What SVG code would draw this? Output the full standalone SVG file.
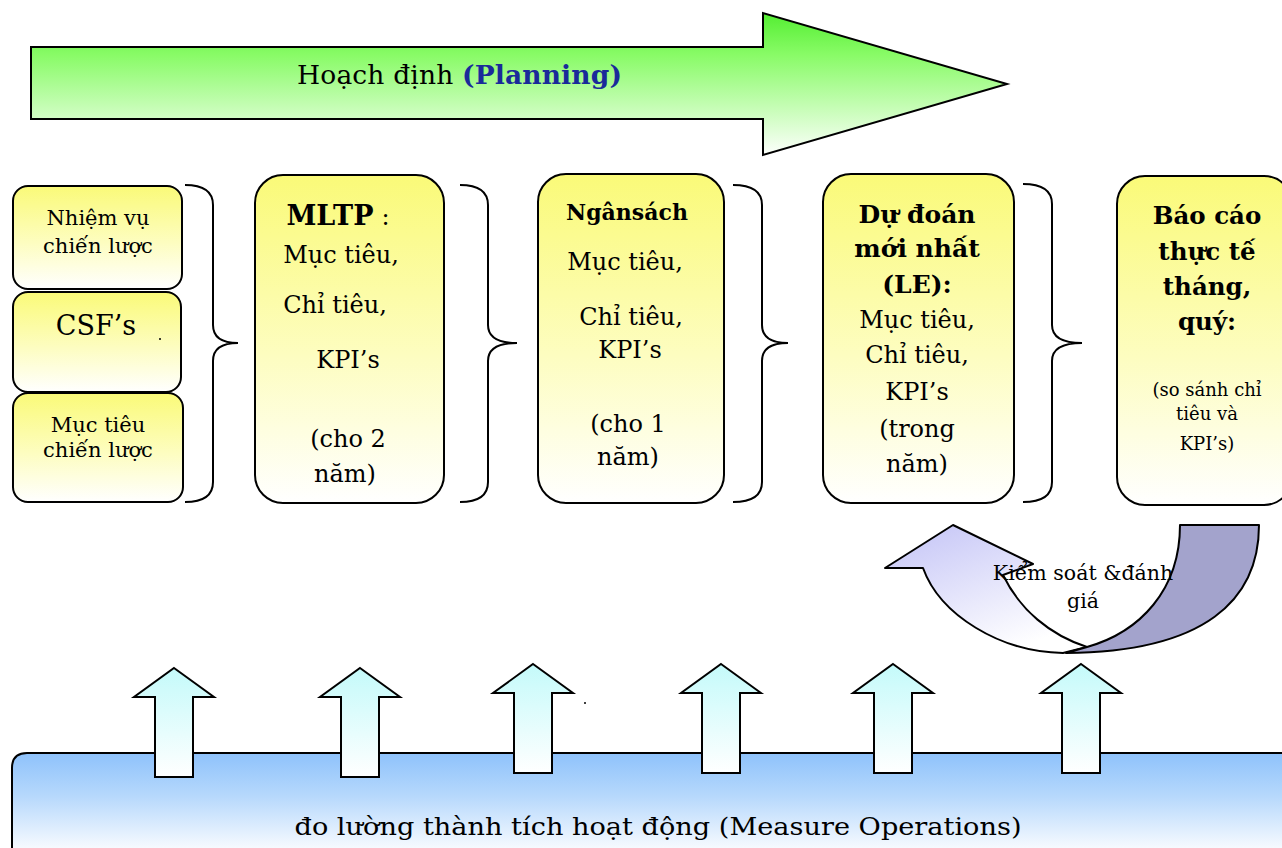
<svg xmlns="http://www.w3.org/2000/svg" width="1282" height="848" viewBox="0 0 1282 848">
  <defs>
    <linearGradient id="gGreen" gradientUnits="userSpaceOnUse" x1="0" y1="14" x2="0" y2="157">
      <stop offset="0" stop-color="#55ee33"/>
      <stop offset="0.28" stop-color="#88fb66"/>
      <stop offset="1" stop-color="#ffffff"/>
    </linearGradient>
    <linearGradient id="gYellow" x1="0" y1="0" x2="0" y2="1">
      <stop offset="0" stop-color="#fafa78"/>
      <stop offset="0.55" stop-color="#fdfdc0"/>
      <stop offset="1" stop-color="#ffffff"/>
    </linearGradient>
    <linearGradient id="gBlue" gradientUnits="userSpaceOnUse" x1="0" y1="753" x2="0" y2="848">
      <stop offset="0" stop-color="#8ec2fb"/>
      <stop offset="0.45" stop-color="#b6d8fc"/>
      <stop offset="1" stop-color="#f6faff"/>
    </linearGradient>
    <linearGradient id="gCyan" x1="0" y1="0" x2="0" y2="1">
      <stop offset="0" stop-color="#c4fafa"/>
      <stop offset="1" stop-color="#ffffff"/>
    </linearGradient>
    <linearGradient id="gLav" x1="0" y1="0" x2="0.6" y2="1">
      <stop offset="0" stop-color="#c2c2f6"/>
      <stop offset="1" stop-color="#ffffff"/>
    </linearGradient>
    <path id="upArrow" d="M0,0 L40,29 L19,29 L19,109 L-19,109 L-19,29 L-40,29 Z"/>
  </defs>
  <style>
    .box { fill: url(#gYellow); stroke: #000; stroke-width: 2; }
    .brace { fill: none; stroke: #000; stroke-width: 2; }
    .t { font-family: "DejaVu Serif", "Liberation Serif", serif; fill: #000; text-anchor: middle; }
    .b { font-weight: bold; }
    .up { fill: url(#gCyan); stroke: #000; stroke-width: 2; stroke-linejoin: miter; }
  </style>

  <rect width="1282" height="848" fill="#ffffff"/>

  <!-- Planning arrow -->
  <g id="planning">
    <path d="M31,47 L763,47 L763,13 L1007,84 L763,155 L763,119 L31,119 Z" fill="url(#gGreen)" stroke="#000" stroke-width="2"/>
    <text x="297" y="84" font-family="DejaVu Serif, Liberation Serif, serif" font-size="26.5" fill="#000" textLength="325">Hoạch định <tspan fill="#1a2a9a" font-weight="bold">(Planning)</tspan></text>
  </g>

  <!-- Strategic inputs -->
  <g id="nhiem-vu">
    <rect class="box" x="13" y="186" width="169" height="103" rx="15"/>
    <text class="t" x="98" y="225" font-size="21">Nhiệm vụ</text>
    <text class="t" x="98" y="253" font-size="21">chiến lược</text>
  </g>
  <g id="csf">
    <rect class="box" x="13" y="292" width="168" height="100" rx="15"/>
    <text class="t" x="96" y="335" font-size="27">CSF’s</text>
    <circle cx="160" cy="339" r="1" fill="#000"/>
  </g>
  <g id="muc-tieu-cl">
    <rect class="box" x="13" y="393" width="170" height="109" rx="15"/>
    <text class="t" x="98" y="432" font-size="21">Mục tiêu</text>
    <text class="t" x="98" y="457" font-size="21">chiến lược</text>
  </g>

  <!-- MLTP -->
  <g id="mltp">
    <rect class="box" x="255" y="175" width="189" height="328" rx="28"/>
    <text class="t" x="338" y="225" font-size="27"><tspan class="b">MLTP</tspan><tspan dx="8" font-size="24">:</tspan></text>
    <text class="t" x="341" y="263" font-size="24">Mục tiêu,</text>
    <text class="t" x="335" y="313" font-size="24">Chỉ tiêu,</text>
    <text class="t" x="348" y="368" font-size="24">KPI’s</text>
    <text class="t" x="348" y="447" font-size="24">(cho 2</text>
    <text class="t" x="345" y="482" font-size="24">năm)</text>
  </g>

  <!-- Ngan sach -->
  <g id="ngansach">
    <rect class="box" x="538" y="174" width="186" height="329" rx="28"/>
    <text class="t b" x="627" y="220" font-size="22">Ngânsách</text>
    <text class="t" x="625" y="270" font-size="24">Mục tiêu,</text>
    <text class="t" x="631" y="325" font-size="24">Chỉ tiêu,</text>
    <text class="t" x="630" y="358" font-size="24">KPI’s</text>
    <text class="t" x="628" y="432" font-size="24">(cho 1</text>
    <text class="t" x="628" y="465" font-size="24">năm)</text>
  </g>

  <!-- Latest estimate -->
  <g id="du-doan">
    <rect class="box" x="823" y="174" width="191" height="329" rx="28"/>
    <text class="t b" x="917" y="223" font-size="25">Dự đoán</text>
    <text class="t b" x="917" y="257" font-size="25">mới nhất</text>
    <text class="t b" x="917" y="293" font-size="25">(LE):</text>
    <text class="t" x="917" y="328" font-size="24">Mục tiêu,</text>
    <text class="t" x="917" y="363" font-size="24">Chỉ tiêu,</text>
    <text class="t" x="917" y="400" font-size="24">KPI’s</text>
    <text class="t" x="917" y="437" font-size="24">(trong</text>
    <text class="t" x="917" y="472" font-size="24">năm)</text>
  </g>

  <!-- Actual report -->
  <g id="bao-cao">
    <rect class="box" x="1117" y="176" width="175" height="329" rx="28"/>
    <text class="t b" x="1207" y="224" font-size="24.5">Báo cáo</text>
    <text class="t b" x="1207" y="260" font-size="24.5">thực tế</text>
    <text class="t b" x="1207" y="295" font-size="24.5">tháng,</text>
    <text class="t b" x="1207" y="330" font-size="24.5">quý:</text>
    <text class="t" x="1207" y="396" font-size="18">(so sánh chỉ</text>
    <text class="t" x="1207" y="420" font-size="18">tiêu và</text>
    <text class="t" x="1207" y="450" font-size="18">KPI’s)</text>
  </g>

  <!-- Connectors: braces, control loop, measurement arrows -->
  <g id="connectors">
    <path class="brace" d="M185,185 Q213,185 213,205 L213,325 Q213,343 238,343 Q213,343 213,361 L213,482 Q213,502 185,502"/>
    <path class="brace" d="M460,185 Q488,185 488,205 L488,325 Q488,343 517,343 Q488,343 488,361 L488,482 Q488,502 460,502"/>
    <path class="brace" d="M733,185 Q762,185 762,205 L762,325 Q762,343 788,343 Q762,343 762,361 L762,482 Q762,502 733,502"/>
    <path class="brace" d="M1023,184 Q1052,184 1052,204 L1052,325 Q1052,343 1082,343 Q1052,343 1052,361 L1052,482 Q1052,502 1023,502"/>

    <g id="control-loop">
      <path d="M885,568 L953,525 L1033,564 L1003,575 C1020,610 1050,635 1087,647 L1063,653 C1000,652 940,615 923,568 Z" fill="url(#gLav)" stroke="#000" stroke-width="2" stroke-linejoin="round"/>
      <path d="M1180,525 L1259,525 C1259,600 1205,652 1066,653 L1087,647 C1140,632 1180,590 1180,525 Z" fill="#a3a3cc" stroke="#000" stroke-width="2" stroke-linejoin="round"/>
      <text class="t" x="1083" y="580" font-size="20.5">Kiểm soát &amp;đánh</text>
      <text class="t" x="1083" y="608" font-size="20.5">giá</text>
    </g>
  </g>

  <!-- Measurement band -->
  <g id="measure">
    <path d="M1290,753 L27,753 Q12,753 12,768 L12,860 L1290,860 Z" fill="url(#gBlue)" stroke="#000" stroke-width="2"/>
    <text class="t" x="658" y="835" font-size="25" textLength="727" lengthAdjust="spacingAndGlyphs">đo lường thành tích hoạt động (Measure Operations)</text>
  </g>

  <g id="measure-arrows">
    <use href="#upArrow" class="up" transform="translate(174,668)"/>
    <use href="#upArrow" class="up" transform="translate(360,668)"/>
    <use href="#upArrow" class="up" transform="translate(533,664)"/>
    <use href="#upArrow" class="up" transform="translate(721,664)"/>
    <use href="#upArrow" class="up" transform="translate(893,664)"/>
    <use href="#upArrow" class="up" transform="translate(1081,664)"/>
    <circle cx="585" cy="703" r="1" fill="#000"/>
  </g>
</svg>
